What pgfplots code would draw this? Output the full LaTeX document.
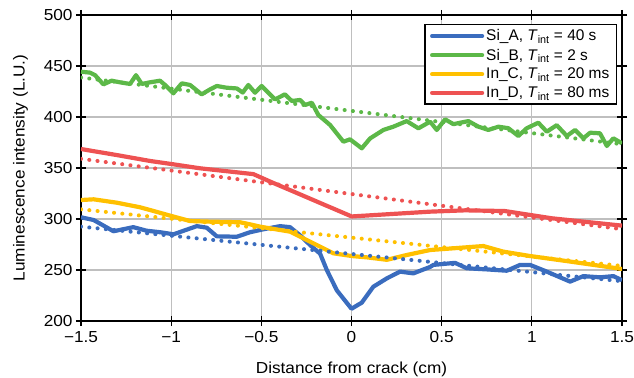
\documentclass[border=0pt]{standalone}
\usepackage{fontspec}
\setmainfont{Liberation Sans}
\newfontfamily\widefont{Liberation Sans}[FakeStretch=1.08]
\usepackage{pgfplots}
\pgfplotsset{compat=1.18}
\definecolor{cA}{RGB}{58,108,190}
\definecolor{cB}{RGB}{92,184,72}
\definecolor{cC}{RGB}{255,192,0}
\definecolor{cD}{RGB}{238,82,82}
\begin{document}
\begin{tikzpicture}
\begin{axis}[
  scale only axis, width=541bp, height=306bp,
  xmin=-1.5, xmax=1.5, ymin=200, ymax=500,
  xtick={-1.5,-1,-0.5,0,0.5,1,1.5},
  xticklabels={−1.5,−1,−0.5,0,0.5,1,1.5},
  ytick={200,250,300,350,400,450,500},
  yticklabels={200,250,300,350,400,450,500},
  grid=major,
  major grid style={draw=black!25, line width=1.1bp},
  axis line style={black, line width=1.4bp},
  tick align=center, major tick length=10bp,
  tick style={black, line width=1.2bp},
  ticklabel style={font=\widefont\fontsize{16}{18}\selectfont},
  xticklabel style={yshift=-2bp},
  label style={font=\widefont\fontsize{16}{18}\selectfont},
  xlabel={Distance from crack (cm)},
  ylabel={Luminescence intensity (L.U.)},
  xlabel style={yshift=-12bp},
  ylabel style={yshift=9bp},
  legend style={at={(0.991,0.971)}, anchor=north east, draw=black, line width=1.6bp,
    font=\fontsize{15.5}{18}\selectfont, row sep=2.5bp, inner xsep=5bp, inner ysep=3bp},
  legend cell align=left,
  legend image code/.code={\draw[#1, line cap=round] (0bp,0bp) -- (50bp,0bp);},
  sline/.style={line width=4.2bp, line join=round},
  trend/.style={line width=4bp, line cap=round, dash pattern=on 0.1bp off 8.2bp},
]
\coordinate (bbsw) at (rel axis cs:0,0);
\coordinate (bbne) at (rel axis cs:1,1);

\addplot[sline, cA] coordinates {
(-1.5,301.7) (-1.43,299) (-1.32,288) (-1.21,292) (-1.136,288.5) (-1.06,287) (-0.987,285)
(-0.858,293) (-0.803,291.5) (-0.747,283) (-0.636,282.6) (-0.563,287) (-0.489,289.9)
(-0.396,293) (-0.341,292) (-0.285,284) (-0.23,274.5) (-0.174,266) (-0.137,250) (-0.081,230)
(0.0,212) (0.057,218) (0.121,233.6) (0.196,241.8) (0.269,248.4) (0.343,246.7) (0.436,253)
(0.454,255) (0.574,257) (0.639,251.7) (0.75,250.6) (0.861,249.3) (0.935,255) (0.99,255)
(1.083,248.4) (1.212,238.6) (1.286,244) (1.378,242.8) (1.452,244) (1.5,240)};
\addlegendentry{Si\_A, \textit{T}\textsubscript{int} = 40 s}

\addplot[sline, cB] coordinates {
(-1.5,444.4) (-1.45,443.5) (-1.422,441) (-1.376,432) (-1.33,435.6) (-1.284,434) (-1.228,432.4)
(-1.195,441) (-1.163,432.4) (-1.117,434) (-1.062,435.6) (-1.034,431.4) (-0.988,423.2)
(-0.941,433) (-0.895,431.4) (-0.831,422.2) (-0.785,427) (-0.747,430.4) (-0.692,428.7)
(-0.636,428) (-0.603,424) (-0.572,431.4) (-0.535,423.8) (-0.498,430.4) (-0.424,417.3)
(-0.369,422.2) (-0.331,415.7) (-0.285,416.7) (-0.258,411.8) (-0.22,414) (-0.184,402)
(-0.119,392.2) (-0.045,375.8) (-0.008,378.1) (0.057,369.3) (0.103,379) (0.177,387.3)
(0.232,390.5) (0.306,396) (0.371,388.9) (0.436,395.4) (0.473,387.3) (0.519,397.7)
(0.565,393) (0.648,396) (0.704,390.5) (0.759,387.3) (0.815,390.5) (0.87,389) (0.925,381.4)
(0.972,389) (1.036,394.4) (1.083,385.6) (1.138,392) (1.194,381.4) (1.24,387.3) (1.286,379.1)
(1.323,384.6) (1.378,384) (1.416,371.6) (1.452,379.1) (1.5,374.2)};
\addlegendentry{Si\_B, \textit{T}\textsubscript{int} = 2 s}

\addplot[sline, cC] coordinates {
(-1.5,318.6) (-1.43,319.3) (-1.302,316) (-1.173,311.5) (-1.117,308.8) (-1.006,303.3)
(-0.895,298) (-0.785,297.4) (-0.618,296.8) (-0.563,294.8) (-0.507,292.5) (-0.341,287.6)
(-0.23,277.8) (-0.101,266.4) (0.001,263.7) (0.085,262.4) (0.196,260) (0.306,264.7)
(0.436,269.6) (0.491,270.3) (0.731,273.5) (0.842,268) (0.99,263.7) (1.212,258.3)
(1.378,254.1) (1.5,251)};
\addlegendentry{In\_C, \textit{T}\textsubscript{int} = 20 ms}

\addplot[sline, cD] coordinates {
(-1.5,368.6) (-1.302,362.7) (-1.117,356.9) (-0.987,353.6) (-0.84,349.7) (-0.544,344)
(-0.45,336.6) (0.001,302.5) (0.436,307.2) (0.63,308.5) (0.85,307.8) (1.11,300.7) (1.5,293.5)};
\addlegendentry{In\_D, \textit{T}\textsubscript{int} = 80 ms}

\addplot[trend, cA, forget plot] coordinates {(-1.5,292.5) (1.5,239)};
\addplot[trend, cB, forget plot] coordinates {(-1.5,438.7) (1.5,373.3)};
\addplot[trend, cC, forget plot] coordinates {(-1.5,309.5) (1.5,254)};
\addplot[trend, cD, forget plot] coordinates {(-1.5,359) (1.5,290)};
\end{axis}
\pgfresetboundingbox
\path ([shift={(-81bp,-57bp)}]bbsw) rectangle ([shift={(12bp,15bp)}]bbne);
\end{tikzpicture}
\end{document}
